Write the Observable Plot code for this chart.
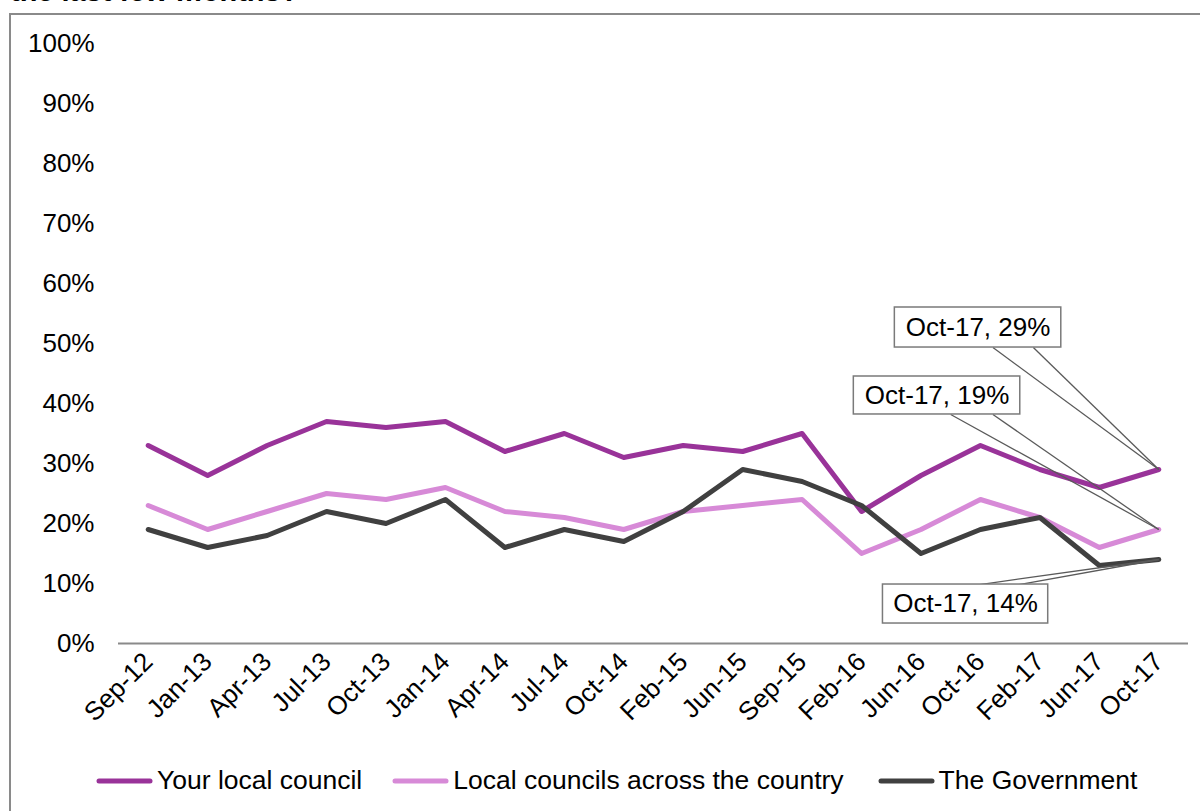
<!DOCTYPE html>
<html>
<head>
<meta charset="utf-8">
<script src="https://cdn.jsdelivr.net/npm/d3@7"></script>
<script src="https://cdn.jsdelivr.net/npm/@observablehq/plot@0.6"></script>
<style>
  html, body { margin: 0; padding: 0; background: #fff; overflow: hidden; }
  body { width: 1200px; height: 811px; position: relative; font-family: "Liberation Sans", Arial, sans-serif; }
  #title { position: absolute; left: 10px; top: -26px; font-size: 29px; font-weight: bold; color: #000; white-space: nowrap; line-height: 34px; z-index: 3; }
  #frame { position: absolute; left: 9px; top: 13px; width: 1300px; height: 900px; border-left: 2px solid #8a8a8a; border-top: 2px solid #8a8a8a; z-index: 0; }
  #chart { position: absolute; left: 0; top: 0; z-index: 1; }
  #legend { position: absolute; left: 95px; top: 765px; display: flex; align-items: center; font-size: 26.5px; color: #000; z-index: 2; white-space: nowrap; }
  .item { display: flex; align-items: center; }
  .item svg { margin-right: 3px; }
</style>
</head>
<body>
<div id="title">the last few months?</div>
<div id="frame"></div>
<div id="chart"></div>
<div id="legend"></div>
<script>
// ---- Data ----
const categories = ["Sep-12","Jan-13","Apr-13","Jul-13","Oct-13","Jan-14","Apr-14","Jul-14","Oct-14","Feb-15","Jun-15","Sep-15","Feb-16","Jun-16","Oct-16","Feb-17","Jun-17","Oct-17"];
const seriesNames = ["Your local council", "Local councils across the country", "The Government"];
const yourLocalCouncil  = [33,28,33,37,36,37,32,35,31,33,32,35,22,28,33,29,26,29];
const localCouncilsAcross = [23,19,22,25,24,26,22,21,19,22,23,24,15,19,24,21,16,19];
const theGovernment     = [19,16,18,22,20,24,16,19,17,22,29,27,23,15,19,21,13,14];
const seriesColors = ["#993399", "#d78ad7", "#404040"];
const yTicks = [0,10,20,30,40,50,60,70,80,90,100];

// Callout labels (box extents in data units: category index / percent)
const callouts = [
  {label: "Oct-17, 29%", px: 17, py: 29, x1: 12.56, x2: 15.36, y1: 49.33, y2: 56.0, edge: 49.33, w1: 14.21, w2: 14.89},
  {label: "Oct-17, 19%", px: 17, py: 19, x1: 11.87, x2: 14.67, y1: 38.17, y2: 44.5, edge: 38.17, w1: 13.50, w2: 14.21},
  {label: "Oct-17, 14%", px: 17, py: 14, x1: 12.36, x2: 15.14, y1: 3.33, y2: 9.83, edge: 9.83, w1: 13.99, w2: 14.65}
];

// ---- Build tables ----
const allSeries = [yourLocalCouncil, localCouncilsAcross, theGovernment];
const rows = [];
allSeries.forEach((vals, s) => vals.forEach((v, i) => rows.push({series: seriesNames[s], i, v})));
const wedges = [];
callouts.forEach(c => {
  wedges.push({x1: c.w1, y1: c.edge, x2: c.px, y2: c.py});
  wedges.push({x1: c.w2, y1: c.edge, x2: c.px, y2: c.py});
});

const chart = Plot.plot({
  width: 1200,
  height: 740,
  marginLeft: 118,
  marginRight: 12,
  marginTop: 43,
  marginBottom: 97,
  style: {background: "transparent", fontFamily: "Liberation Sans, Arial, sans-serif", fontSize: "26px", color: "#000", overflow: "visible"},
  x: {type: "linear", domain: [-0.5, categories.length - 0.5], ticks: d3.range(categories.length), tickFormat: i => categories[i], tickRotate: -45, tickSize: 0, tickPadding: 14, label: null},
  y: {domain: [0, 100], ticks: yTicks, tickFormat: d => d + "%", tickSize: 0, tickPadding: 24, label: null},
  color: {domain: seriesNames, range: seriesColors},
  marks: [
    Plot.ruleY([0], {stroke: "#8a8a8a", strokeWidth: 2}),
    Plot.line(rows, {x: "i", y: "v", z: "series", stroke: "series", strokeWidth: 5, strokeLinejoin: "round", strokeLinecap: "round"}),
    Plot.link(wedges, {x1: "x1", y1: "y1", x2: "x2", y2: "y2", stroke: "#5a5a5a", strokeWidth: 1.3}),
    Plot.rect(callouts, {x1: "x1", x2: "x2", y1: "y1", y2: "y2", fill: "white", stroke: "#7a7a7a", strokeWidth: 1.5}),
    Plot.text(callouts, {x: d => (d.x1 + d.x2) / 2, y: d => (d.y1 + d.y2) / 2, text: "label", fontSize: 26, fill: "#000", textAnchor: "middle", lineAnchor: "middle"})
  ]
});
document.getElementById("chart").appendChild(chart);

// ---- Legend ----
const legend = d3.select("#legend");
const gaps = [29, 33, 0];
seriesNames.forEach((name, k) => {
  const item = legend.append("div").attr("class", "item").style("margin-right", gaps[k] + "px");
  const sw = item.append("svg").attr("width", 59).attr("height", 12);
  sw.append("line").attr("x1", 4).attr("x2", 55).attr("y1", 6).attr("y2", 6)
    .attr("stroke", seriesColors[k]).attr("stroke-width", 5).attr("stroke-linecap", "round");
  item.append("span").text(name);
});
</script>
</body>
</html>
